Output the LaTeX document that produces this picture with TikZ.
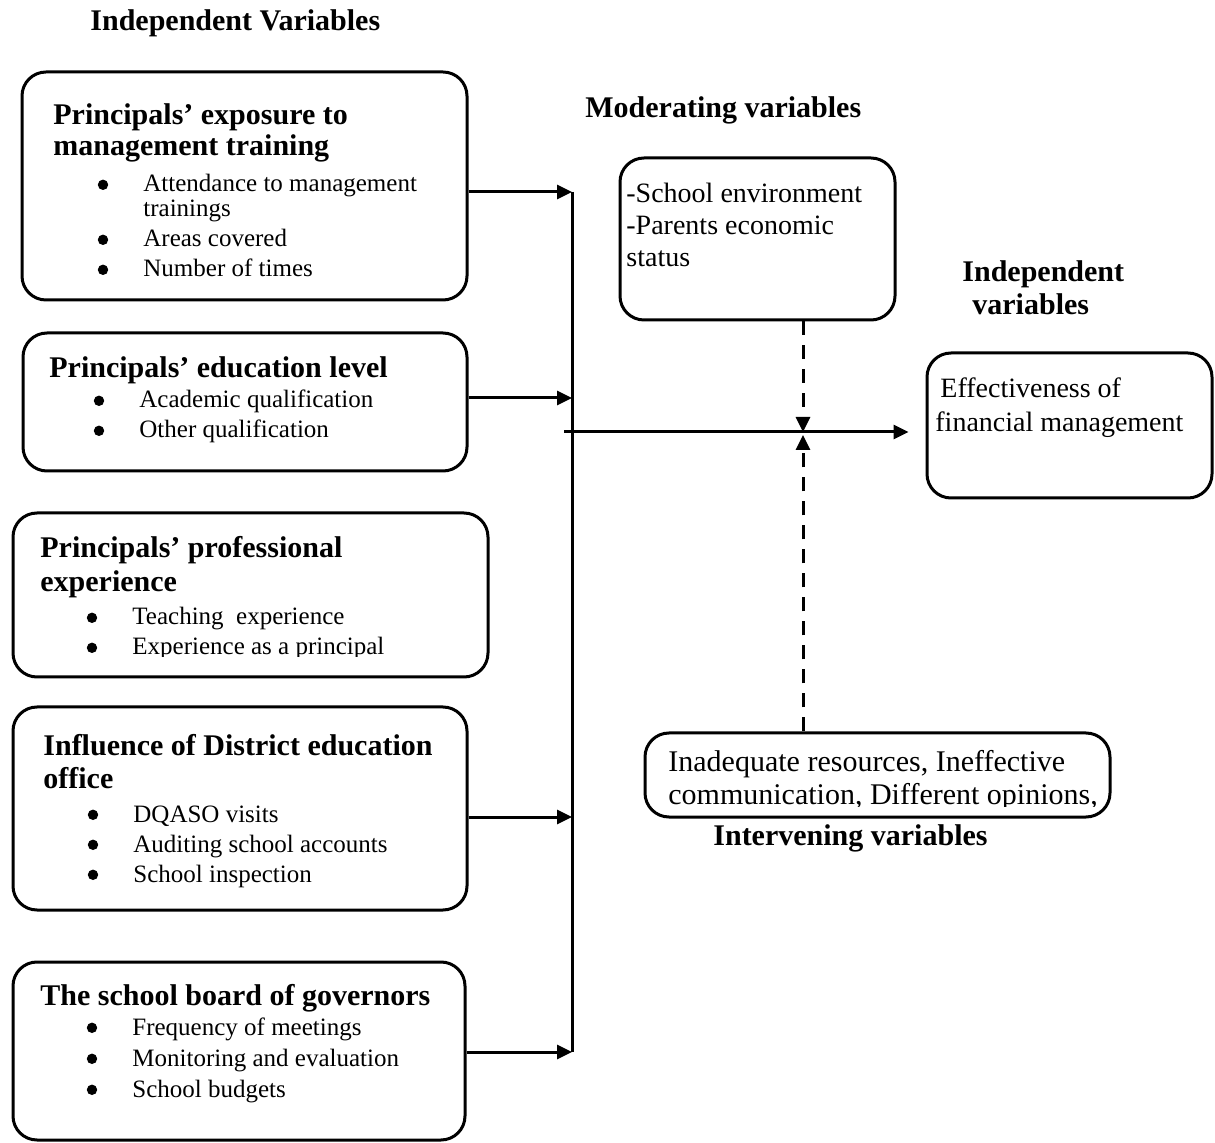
\documentclass[tikz,border=0pt]{standalone}
\usepackage{fontspec}
\setmainfont{Liberation Serif}
\usetikzlibrary{arrows.meta}
\usetikzlibrary{fit}
\tikzset{box/.style = {draw, line width=1.5pt, rounded corners=12pt, inner sep=0pt},
         head/.style = {anchor=base west, inner sep=0pt, font=\fontsize{15}{18}\selectfont\bfseries},
         item/.style = {anchor=base west, inner sep=0pt, font=\fontsize{12.5}{15}\selectfont},
         dotitem/.style = {item, append after command={\pgfextra{%
             \fill ([xshift=-20pt, yshift=3.6pt]\tikzlastnode.base west) circle [radius=2.6pt];}}},
         note/.style = {anchor=base west, inner sep=0pt, font=\fontsize{14}{17}\selectfont},
         bignote/.style = {anchor=base west, inner sep=0pt, font=\fontsize{15}{18}\selectfont},
         link/.style = {line width=1.5pt, -{Triangle[length=7.5pt, width=7pt]}},
         dlink/.style = {link, dash pattern=on 7pt off 5pt},
         bus/.style = {line width=1.5pt}}

\begin{document}
\begin{tikzpicture}[x=0.5pt, y=-0.5pt]
  \useasboundingbox (0,0) rectangle (1215,1143);

  % headings
  \node [head] (indep) at (90,31) {Independent Variables};
  \node [head] (moder) at (585,118) {Moderating variables};
  \node [head] (depA) at (962,282) {Independent};
  \node [head] (depB) at (972,315) {variables};
  \node [head] (interv) at (713,845) {Intervening variables};

  % exposure to training
  \node [box, fit={(22,72) (467,300)}] (train) {};
  \node [head] (trainA) at (53,125) {Principals' exposure to};
  \node [head] (trainB) at (53,156) {management training};
  \node [dotitem] (trainC) at (143,192) {Attendance to management};
  \node [item] (trainD) at (143,217) {trainings};
  \node [dotitem] (trainE) at (143,247) {Areas covered};
  \node [dotitem] (trainF) at (143,277) {Number of times};

  % education level
  \node [box, fit={(23,333) (467,471)}] (edu) {};
  \node [head] (eduA) at (49,378) {Principals' education level};
  \node [dotitem] (eduB) at (139,408) {Academic qualification};
  \node [dotitem] (eduC) at (139,438) {Other qualification};

  % professional experience
  \node [box, fit={(13,513) (488,677)}] (exper) {};
  \node [head] (experA) at (40,558) {Principals' professional};
  \node [head] (experB) at (40,592) {experience};
  \node [dotitem] (experC) at (132,625) {Teaching\ \ experience};
  \begin{scope}
    \clip (13,513) rectangle (488,657);
    \node [dotitem] (experD) at (132,655) {Experience as a principal};
  \end{scope}

  % district office
  \node [box, fit={(13,707) (467,910)}] (dist) {};
  \node [head] (distA) at (43,755) {Influence of District education};
  \node [head] (distB) at (43,788) {office};
  \foreach \txt/\y [count=\i] in {DQASO visits/822, Auditing school accounts/852, School inspection/882}
    \node [dotitem] (dist\i) at (133,\y) {\txt};

  % board of governors
  \node [box, fit={(13,962) (465,1140)}] (board) {};
  \node [head] (boardA) at (40,1005) {The school board of governors};
  \foreach \txt/\y [count=\i] in {Frequency of meetings/1035, Monitoring and evaluation/1066, School budgets/1097}
    \node [dotitem] (board\i) at (132,\y) {\txt};

  % moderating
  \node [box, fit={(620,158) (895,320)}] (mod) {};
  \node [note] (modA) at (626,203) {-School environment};
  \node [note] (modB) at (626,235) {-Parents economic};
  \node [note] (modC) at (626,267) {status};

  % dependent
  \node [box, fit={(927,353) (1212,498)}] (eff) {};
  \node [note] (effA) at (940,398) {Effectiveness of};
  \node [note] (effB) at (935,432) {financial management};

  % intervening
  \node [box, fit={(645,733) (1110,817)}] (int) {};
  \node [bignote] (intA) at (668,771) {Inadequate resources, Ineffective};
  \begin{scope}
    \clip (645,733) rectangle (1110,806);
    \node [bignote] (intB) at (668,804) {communication, Different opinions,};
  \end{scope}

  % connectors
  \coordinate (busA) at (572,192);
  \coordinate (busB) at (572,398);
  \coordinate (busD) at (572,817);
  \coordinate (busE) at (572,1052);
  \coordinate (hub) at (564,432);
  \coordinate (meet) at (803,432);
  \draw [bus] (busA) -- (busE);
  \draw [link] (busA -| train.east) -- (busA);
  \draw [link] (busB -| edu.east) -- (busB);
  \draw [link] (busD -| dist.east) -- (busD);
  \draw [link] (busE -| board.east) -- (busE);
  \draw [link, shorten >=8.5pt] (hub) -- (hub -| eff.west);
  \draw [dlink] (meet |- mod.south) -- (meet);
  \draw [dlink] (meet |- int.north) -- ([yshift=-1.5pt]meet);
\end{tikzpicture}
\end{document}
